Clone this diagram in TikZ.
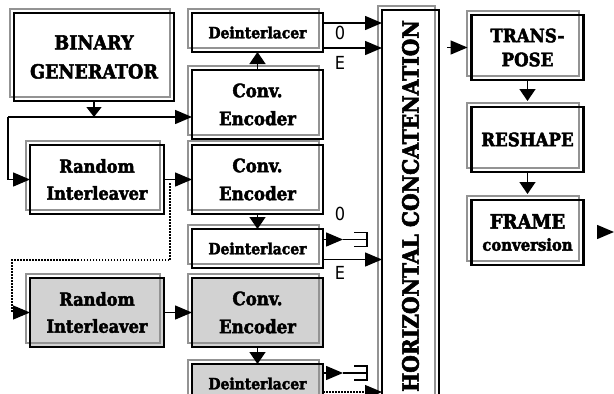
\documentclass[tikz,border=0pt]{standalone}
\usepackage{fontspec}
\setmainfont{DejaVu Serif Condensed}[BoldFeatures={FakeBold=2.5}]
\setsansfont{DejaVu Sans Condensed}
\usetikzlibrary{arrows.meta, positioning}

\begin{document}
\begin{tikzpicture}[
		x=1pt, y=-1pt,
		node distance=18pt and 28pt,
		block/.style={fill=#1, inner sep=0pt, outer sep=1pt, align=center},
		block/.default=white,
		gen/.style={block, minimum width=158pt, minimum height=86pt, font=\bfseries\fontsize{19.5}{29}\selectfont},
		deint/.style={block=#1, minimum width=129pt, minimum height=37pt, font=\bfseries\fontsize{15.5}{16}\selectfont},
		deint/.default=white,
		enc/.style={block=#1, minimum width=129pt, minimum height=67pt, font=\bfseries\fontsize{18.5}{28}\selectfont},
		enc/.default=white,
		inter/.style={block=#1, minimum width=132pt, minimum height=67pt, font=\bfseries\fontsize{18}{27}\selectfont},
		inter/.default=white,
		stage/.style={block, minimum width=110pt, minimum height=63pt, font=\bfseries\fontsize{18.5}{24}\selectfont},
		rim/.style={draw=gray!85, line width=2pt},
		frameline/.style={draw=black, line width=2.2pt},
		lbl/.style={inner sep=0pt, font=\sffamily\fontsize{18}{18}\selectfont},
		tri/.style={-{Triangle[length=12pt,width=16pt]}},
		->, >={Triangle[length=17pt,width=14pt]}, line width=1.5pt, black
		]
		\useasboundingbox (0,0) rectangle (614,394);
		% Blocks
		\node[gen] (gen) at (94,57) {BINARY\\GENERATOR};
		\node[deint] (deintA) at (257.5,32.5) {Deinterlacer};
		\node[enc, below=of deintA] (encA) {Conv.\\Encoder};
		\node[enc, below=6pt of encA] (encB) {Conv.\\Encoder};
		\node[deint, below=15pt of encB] (deintB) {Deinterlacer};
		\node[enc=gray!35, below=10pt of deintB] (encC) {Conv.\\Encoder};
		\node[deint=gray!35, below=17pt of encC] (deintC) {Deinterlacer};
		
		\node[inter, left=of encB] (intA) {Random\\Interleaver};
		\node[inter=gray!35, left=of encC] (intB) {Random\\Interleaver};
		
		\node[block, minimum width=55pt, minimum height=390pt] at (410.5,206) (concat)
			{\rotatebox{90}{\bfseries\fontsize{22.5}{22}\selectfont HORIZONTAL CONCATENATION}};
		
		\node[stage] at (527.5,47.5) (trans) {TRANS-\\POSE};
		\node[stage, below=27pt of trans] (reshape) {RESHAPE};
		\node[stage, below=28pt of reshape, font=\bfseries\fontsize{20}{22}\selectfont] (frame)
			{FRAME\\{\fontsize{16.5}{16}\selectfont conversion}};
		
		% 3D frames of the blocks
		\foreach \n in {gen,deintA,encA,encB,deintB,encC,deintC,intA,intB,concat,trans,reshape,frame}{
			\draw[-, rim] ([shift={(-4.5pt,4.5pt)}]\n.south west) rectangle ([shift={(-4.5pt,4.5pt)}]\n.north east);
			\draw[-, frameline] (\n.south west) rectangle (\n.north east);
		}
		
		% Odd / even labels
		\node[lbl] at (340,33) (oA) {0};
		\node[lbl] at (340,63) (eA) {E};
		\node[lbl] at (340,214) (oB) {0};
		\node[lbl] at (340,273) (eB) {E};
		
		% Helper points
		\coordinate (bus) at (8,117);
		\coordinate (tap) at (170,183);
		\coordinate (loop) at (12,260);
		\coordinate (out) at (614,232);
		\path ([yshift=9pt]deintB.east) ++(20,0) coordinate (stopB);
		\path ([yshift=10.5pt]deintC.east) ++(20,0) coordinate (stopC);
		
		% draw arrows
		\draw[-{Triangle[length=10pt,width=15pt]}] (gen) -- (gen |- bus);
		\draw (bus) -- (encA.west |- bus);
		\draw (bus) |- (intA);
		\draw (intA) -- (encB);
		\draw[dash pattern=on 1.5pt off 1.5pt, line width=1.2pt] (tap) |- (loop) |- (intB);
		\draw (intB) -- (encC);
		
		\draw[tri] (encA) -- (deintA);
		\draw[tri] (encB) -- (deintB);
		\draw[tri] (encC) -- (deintC);
		
		\draw ([yshift=9.5pt]deintA.east) -- ([yshift=9.5pt]deintA.east -| concat.west);
		\draw ([yshift=-15.5pt]deintA.east) -- ([yshift=-15.5pt]deintA.east -| concat.west);
		\draw (stopB -| deintB.east) -- (stopB);
		\draw ([yshift=-11pt]deintB.east) -- ([yshift=-11pt]deintB.east -| concat.west);
		\draw (stopC -| deintC.east) -- (stopC);
		\draw[dash pattern=on 1.5pt off 1.5pt, line width=1.2pt] ([yshift=-8.5pt]deintC.east) -- ([yshift=-8.5pt]deintC.east -| concat.west);
		
		% terminated outputs
		\draw[-, line width=1.3pt] (stopB) -- ++(24,0) ++(-13,-7) -- ++(13,0) -- ++(0,14) -- ++(-13,0);
		\draw[-, line width=1.3pt] (stopC) -- ++(24,0) ++(-13,-7) -- ++(13,0) -- ++(0,14) -- ++(-13,0);
		
		\draw[shorten <=8pt, shorten >=4pt] (concat.east |- trans) -- (trans);
		\draw[tri, shorten >=6pt] (trans) -- (reshape);
		\draw[tri, shorten >=6pt] (reshape) -- (frame);
		\draw[shorten <=16pt] (out -| frame.east) -- (out);
	\end{tikzpicture}
\end{document}
